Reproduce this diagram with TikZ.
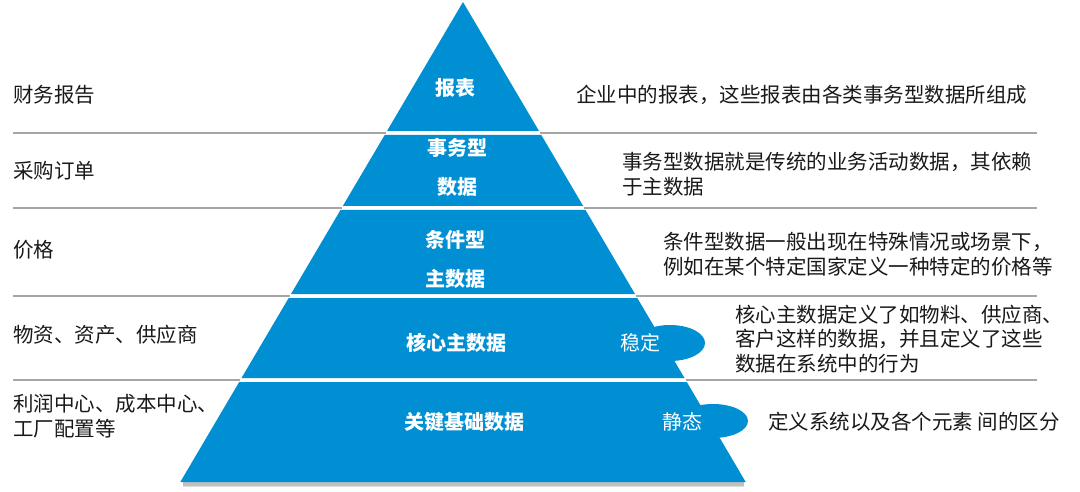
\documentclass[tikz,border=0pt]{standalone}
\usepackage{fontspec}
\setmainfont{Noto Sans CJK SC}
\definecolor{pblue}{RGB}{0,143,211}
\definecolor{sepgray}{RGB}{166,166,166}
\definecolor{txt}{RGB}{25,25,25}
\begin{document}
\begin{tikzpicture}[x=1pt,y=-1pt,
  layer/.style={fill=pblue},
  sep/.style={draw=sepgray,line width=1.6pt},
  lbl/.style={anchor=west,inner sep=0pt,text=txt,font=\fontsize{20.5}{24.8}\selectfont,align=left},
  plbl/.style={inner sep=0pt,text=white,font=\fontsize{20}{39}\selectfont\bfseries,align=center},
  blbl/.style={inner sep=0pt,text=white,font=\fontsize{20}{24}\selectfont}]
\useasboundingbox (0,0) rectangle (1080,492);
% separator lines
\draw[sep] (13,133) -- (385.8,133);
\draw[sep] (540.2,133) -- (1037,133);
\draw[sep] (13,208) -- (341.7,208);
\draw[sep] (584.3,208) -- (1037,208);
\draw[sep] (13,296) -- (289.8,296);
\draw[sep] (636.2,296) -- (1037,296);
\draw[sep] (13,380) -- (240.4,380);
\draw[sep] (685.6,380) -- (1037,380);
% shadow
\fill[gray!50] (183,482) rectangle (744,485.5);
\fill[gray!25] (183,485.5) rectangle (744,487);
% pyramid layers
\fill[layer] (463,2) -- (539,131) -- (387,131) -- cycle;
\fill[layer] (384.7,135) -- (541.3,135) -- (583.2,206) -- (342.8,206) -- cycle;
\fill[layer] (340.5,210) -- (585.5,210) -- (635,294) -- (291,294) -- cycle;
\fill[layer] (288.7,298) -- (637.3,298) -- (684.5,378) -- (241.5,378) -- cycle;
\fill[layer] (670,343) ellipse [x radius=35, y radius=18];
\fill[layer] (239.2,382) -- (686.8,382) -- (745.7,482) -- (180.3,482) -- cycle;
\fill[layer] (713,421) ellipse [x radius=35, y radius=17];
% pyramid labels
\node[plbl] (p1) at (455,88) {报表};
\node[plbl] (p2) at (457,167.5) {事务型\\数据};
\node[plbl] (p3) at (455,259) {条件型\\主数据};
\node[plbl] (p4) at (456,343) {核心主数据};
\node[plbl] (p5) at (464,422) {关键基础数据};
\node[blbl] (b1) at (640,343) {稳定};
\node[blbl] (b2) at (682,422) {静态};
% left labels
\node[lbl] (l1) at (13,95) {财务报告};
\node[lbl] (l2) at (13,171) {采购订单};
\node[lbl] (l3) at (13,250) {价格};
\node[lbl] (l4) at (13,335) {物资、资产、供应商};
\node[lbl] (l5) at (13,416) {利润中心、成本中心、\\工厂配置等};
% right descriptions
\node[lbl] (r1) at (576,95) {企业中的报表，这些报表由各类事务型数据所组成};
\node[lbl] (r2) at (622,174.5) {事务型数据就是传统的业务活动数据，其依赖\\于主数据};
\node[lbl] (r3) at (663,254) {条件型数据一般出现在特殊情况或场景下，\\例如在某个特定国家定义一种特定的价格等};
\node[lbl] (r4) at (735,339) {核心主数据定义了如物料、供应商、\\客户这样的数据，并且定义了这些\\数据在系统中的行为};
\node[lbl] (r5) at (768,422) {定义系统以及各个元素 间的区分};
\end{tikzpicture}
\end{document}
